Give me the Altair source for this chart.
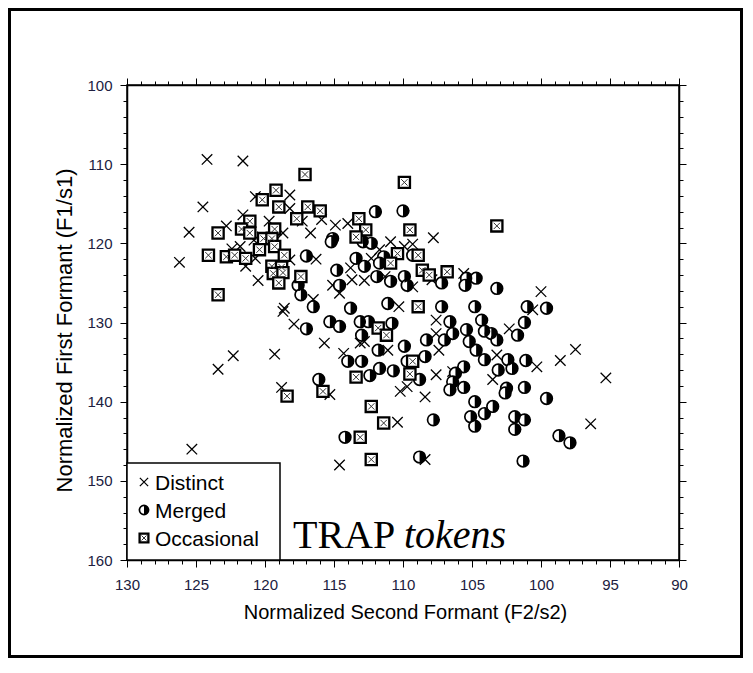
import altair as alt
import pandas as pd

# (F2, F1) pairs
DISTINCT = [
    (124.2, 109.4), (121.6, 109.6), (120.7, 114.1), (118.2, 113.9), (124.5, 115.4),
    (118.2, 115.6), (121.6, 116.4), (117.3, 117.2), (119.7, 117.2), (122.8, 117.8),
    (125.5, 118.6), (116.7, 118.7), (118.7, 118.7), (120.2, 119.2), (121.8, 120.4),
    (122.4, 120.7), (126.2, 122.4), (121.4, 122.9), (118.2, 122.1), (116.3, 122.0),
    (120.5, 124.7), (116.5, 127.1), (118.6, 128.2), (118.7, 128.6), (117.9, 130.2),
    (122.3, 134.2), (123.4, 135.9), (119.3, 134.0), (118.8, 138.2), (125.3, 146.0),
    (115.9, 117.0), (114.9, 117.7), (114.0, 117.5), (110.9, 119.8), (107.8, 119.3),
    (111.7, 120.8), (109.9, 120.4), (112.3, 121.9), (113.8, 123.1), (105.6, 123.8),
    (109.3, 125.5), (107.9, 124.6), (111.3, 124.2), (113.7, 124.6), (112.8, 124.7),
    (115.1, 125.3), (114.6, 126.3), (110.3, 128.0), (100.0, 126.1), (113.1, 132.6),
    (112.8, 132.4), (115.7, 132.6), (114.3, 133.9), (111.1, 133.5), (107.6, 129.7),
    (107.6, 131.4), (107.4, 133.5), (103.2, 134.1), (103.5, 137.2), (106.4, 136.2),
    (107.6, 136.6), (115.3, 139.1), (110.2, 138.7), (109.7, 138.1), (108.4, 139.4),
    (110.4, 142.6), (114.6, 148.0), (108.4, 147.3), (100.6, 128.4), (102.3, 130.8),
    (97.5, 133.4), (98.6, 134.8), (100.3, 135.6), (95.3, 137.0), (96.4, 142.8),
    (109.3, 120.1), (120.7, 121.9), (120.8, 119.6),
]
MERGED = [
    (117.0, 121.6), (117.6, 125.3), (117.4, 126.5), (116.5, 128.0), (117.0, 130.8),
    (116.1, 137.2), (112.0, 116.0), (110.0, 115.9), (115.1, 119.4), (115.2, 119.8),
    (112.9, 119.8), (112.3, 120.0), (109.3, 121.5), (111.4, 121.7), (113.4, 121.9),
    (112.8, 122.9), (111.7, 122.5), (114.8, 123.4), (105.4, 124.4), (104.7, 124.4),
    (103.2, 125.7), (109.9, 124.2), (109.7, 125.3), (107.2, 125.0), (105.5, 125.3),
    (111.9, 124.2), (110.9, 124.8), (114.6, 125.3), (113.8, 128.2), (111.1, 127.6),
    (107.2, 128.0), (104.8, 128.0), (101.0, 128.0), (99.6, 128.2), (115.3, 129.9),
    (114.6, 130.5), (113.1, 129.9), (112.5, 129.9), (110.8, 130.1), (113.0, 131.6),
    (114.0, 134.9), (113.0, 134.9), (111.8, 133.5), (109.9, 133.0), (109.7, 134.9),
    (108.4, 134.3), (108.3, 132.2), (107.0, 132.2), (106.6, 129.9), (106.4, 131.4),
    (105.4, 130.9), (104.3, 129.7), (104.1, 131.1), (103.6, 131.4), (104.7, 133.5),
    (104.1, 134.7), (105.2, 132.4), (103.2, 132.2), (103.1, 136.0), (105.6, 135.6),
    (106.2, 136.4), (106.4, 137.5), (106.6, 138.5), (105.6, 138.2), (108.8, 137.2),
    (110.7, 136.1), (111.7, 135.8), (112.4, 136.7), (104.8, 140.0), (105.1, 141.9),
    (104.8, 143.1), (104.1, 141.5), (103.5, 140.6), (107.8, 142.3), (114.2, 144.5),
    (108.8, 147.0), (101.2, 130.0), (101.7, 131.6), (101.1, 134.8), (102.4, 134.7),
    (102.1, 135.8), (102.5, 138.3), (102.6, 138.9), (101.2, 138.2), (99.6, 139.6),
    (101.9, 141.9), (101.2, 142.3), (101.9, 143.5), (98.7, 144.3), (97.9, 145.2),
    (101.3, 147.5),
]
OCCASIONAL = [
    (117.1, 111.3), (109.9, 112.3), (120.2, 114.5), (119.2, 113.3), (119.0, 115.4),
    (116.9, 115.4), (116.0, 115.9), (117.7, 116.9), (121.1, 117.2), (123.4, 118.7),
    (121.7, 118.2), (121.1, 118.7), (119.3, 118.2), (120.1, 119.4), (119.5, 119.4),
    (119.3, 120.4), (120.4, 120.8), (124.1, 121.5), (122.8, 121.7), (122.2, 121.5),
    (121.4, 121.9), (118.6, 121.5), (119.5, 122.9), (118.8, 123.0), (119.4, 123.8),
    (118.7, 123.7), (117.4, 124.2), (119.0, 125.0), (123.4, 126.5), (113.2, 116.9),
    (112.7, 118.3), (109.5, 118.3), (103.2, 117.8), (113.4, 119.2), (110.4, 121.3),
    (108.9, 121.5), (110.9, 122.5), (108.6, 123.4), (108.1, 124.0), (106.8, 123.6),
    (108.9, 128.0), (111.8, 130.7), (111.2, 131.6), (109.3, 134.9), (109.5, 136.5),
    (113.4, 136.9), (115.8, 138.7), (118.4, 139.3), (112.3, 140.6), (111.4, 142.7),
    (113.1, 144.5), (112.3, 147.3),
]
CATEGORIES = ["Distinct", "Merged", "Occasional"]
X_TICKS = list(range(90, 131))
Y_TICKS = list(range(100, 161, 2))

rows = []
for cat, pts in zip(CATEGORIES, [DISTINCT, MERGED, OCCASIONAL]):
    for f2, f1 in pts:
        rows.append({"f2": f2, "f1": f1, "cat": cat})
df = pd.DataFrame(rows)

FONT = "Liberation Sans"
XPATH = "M -1 -1 L 1 1 M -1 1 L 1 -1"
HALF = "M 0 -1 A 1 1 0 0 1 0 1 Z"

xscale = alt.Scale(domain=[90, 130], reverse=True, nice=False, zero=False)
yscale = alt.Scale(domain=[100, 160], reverse=True, nice=False, zero=False)

major_x = {"condition": {"test": "datum.value % 5 === 0", "value": 7}, "value": 4}
major_y = {"condition": {"test": "datum.value % 10 === 0", "value": 7}, "value": 4}

common = dict(domainColor="black", domainWidth=1.5, tickColor="black", tickWidth=1,
              grid=False, labelOverlap=False, labelFlush=False)

x_bottom = alt.Axis(orient="bottom", values=X_TICKS, tickSize=major_x,
                    labelExpr="datum.value % 5 === 0 ? datum.label : ''",
                    labelFont=FONT, labelFontSize=15, labelColor="#202040", labelPadding=10,
                    title="Normalized Second Formant (F2/s2)", titleFont=FONT, titleFontSize=20,
                    titleFontWeight="normal", titleColor="black", titleX=278, titleY=58,
                    titleBaseline="alphabetic", **common)
y_left = alt.Axis(orient="left", values=Y_TICKS, tickSize=major_y,
                  labelExpr="datum.value % 10 === 0 ? datum.label : ''",
                  labelFont=FONT, labelFontSize=15, labelColor="#202040", labelPadding=8,
                  title="Normalized First Formant (F1/s1)", titleFont=FONT, titleFontSize=22,
                  titleFontWeight="normal", titleColor="black", titleX=-63, titleY=245,
                  titleAngle=270, titleBaseline="middle", titleAlign="center", **common)
x_top = alt.Axis(orient="top", values=X_TICKS, tickSize=major_x, labels=False, title="", **common)
y_right = alt.Axis(orient="right", values=Y_TICKS, tickSize=major_y, labels=False, title="", **common)

axes_main = alt.Chart(df).mark_point(opacity=0).encode(
    x=alt.X("f2:Q", scale=xscale, axis=x_bottom),
    y=alt.Y("f1:Q", scale=yscale, axis=y_left),
)
axes_mirror = alt.Chart(df).mark_point(opacity=0).encode(
    x=alt.X("f2:Q", scale=xscale, axis=x_top),
    y=alt.Y("f1:Q", scale=yscale, axis=y_right),
)


def symbol_marks(base, cat, s):
    if cat == "Distinct":
        return [base.mark_point(shape=XPATH, size=110 * s, filled=False, stroke="black",
                                strokeWidth=1.3, opacity=1)]
    if cat == "Merged":
        return [
            base.mark_point(shape="circle", size=135 * s, filled=True, fill="white",
                            stroke="black", strokeWidth=1.7, opacity=1),
            base.mark_point(shape=HALF, size=135 * s, filled=True, fill="black",
                            strokeWidth=0, opacity=1),
        ]
    return [
        base.mark_point(shape="square", size=125 * s, filled=True, fill="white",
                        stroke="black", strokeWidth=2.3, opacity=1),
        base.mark_point(shape=XPATH, size=40 * s, filled=False, stroke="#333333",
                        strokeWidth=1, opacity=1),
    ]


point_layers = []
for cat in CATEGORIES:
    base = alt.Chart(df).transform_filter(alt.datum.cat == cat).encode(
        x=alt.X("f2:Q", scale=xscale, axis=None),
        y=alt.Y("f1:Q", scale=yscale, axis=None),
    )
    point_layers += symbol_marks(base, cat, 1.0)

one = alt.Data(values=[{}])

frame = alt.Chart(one).mark_rect(fillOpacity=0, stroke="black", strokeWidth=3).encode(
    x=alt.value(-117.5), x2=alt.value(614.5), y=alt.value(-75.5), y2=alt.value(571.5))

legend_box = alt.Chart(one).mark_rect(fill="white", stroke="black", strokeWidth=1.5).encode(
    x=alt.value(0), x2=alt.value(153), y=alt.value(378), y2=alt.value(475))

legend_layers = [legend_box]
for i, cat in enumerate(CATEGORIES):
    ly = 397 + 28 * i
    lbase = alt.Chart(one).encode(x=alt.value(17), y=alt.value(ly))
    legend_layers += symbol_marks(lbase, cat, 0.62)
    legend_layers.append(
        alt.Chart(one).mark_text(text=cat, font=FONT, fontSize=21, align="left",
                                 baseline="alphabetic", color="black").encode(
            x=alt.value(28), y=alt.value(ly + 8)))

title_trap = alt.Chart(one).mark_text(text="TRAP", font="Liberation Serif", fontSize=40,
                                      align="left", baseline="alphabetic", color="black").encode(
    x=alt.value(166), y=alt.value(463))
title_tokens = alt.Chart(one).mark_text(text="tokens", font="Liberation Serif", fontSize=40,
                                        fontStyle="italic", align="left", baseline="alphabetic",
                                        color="black").encode(
    x=alt.value(277), y=alt.value(463))

chart = alt.layer(
    frame, axes_main, axes_mirror, *point_layers, *legend_layers, title_trap, title_tokens
).resolve_axis(x="independent", y="independent").properties(
    width=552, height=475,
    autosize=alt.AutoSizeParams(type="none"),
    padding={"left": 119, "top": 77, "right": 66, "bottom": 98},
    background="white",
).configure_view(stroke="black", strokeWidth=1.5)

chart.save("out.html", embed_options={"renderer": "svg", "actions": False})
